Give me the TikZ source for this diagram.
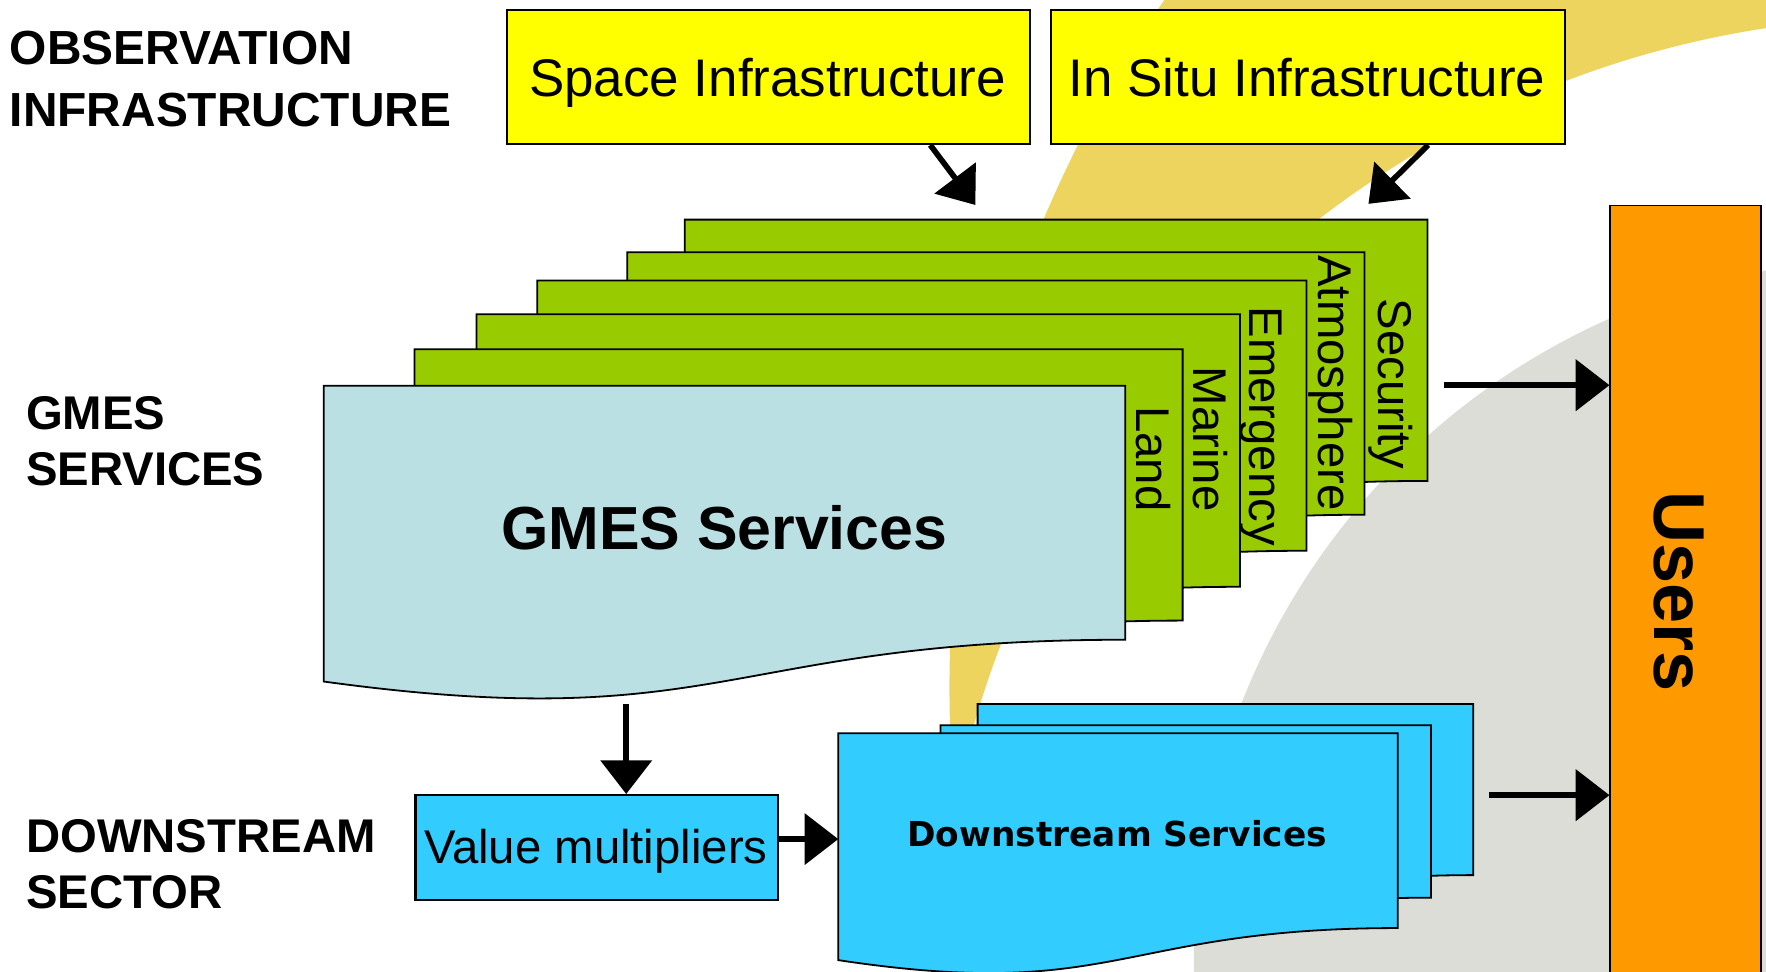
\documentclass[tikz,border=0pt]{standalone}
\usepackage{fontspec}
\setmainfont{Liberation Sans}
\newfontfamily\dvfont{DejaVu Sans}
\usetikzlibrary{arrows.meta}

\definecolor{boxyellow}{HTML}{FFFF00}
\definecolor{pagegreen}{HTML}{99CC00}
\definecolor{gmesblue}{HTML}{BBE0E3}
\definecolor{dscyan}{HTML}{33CCFF}
\definecolor{usersorange}{HTML}{FF9900}
\definecolor{arcyellow}{RGB}{236,212,94}
\definecolor{bggray}{RGB}{221,221,216}

% document shape: #1 style, #2 x left, #3 y top, #4 x right, #5 y at bottom right
\newcommand\docpage[5]{%
  \pgfmathsetmacro\dpH{(#5-#3)/0.802}%
  \pgfmathsetmacro\dpM{(#2+#4)/2}%
  \pgfmathsetmacro\dpC{#3+1.1075*\dpH}%
  \pgfmathsetmacro\dpL{#3+0.934*\dpH}%
  \draw[#1] (#2,#3) -- (#4,#3) -- (#4,#5) .. controls (\dpM,#5) and (\dpM,\dpC) .. (#2,\dpL) -- cycle;%
}

\tikzset{
  ybox/.style={draw=black, line width=1.8pt, fill=boxyellow, inner sep=0pt, anchor=north west},
  greenpage/.style={draw=black, line width=1.6pt, fill=pagegreen, line join=miter},
  gmespage/.style={draw=black, line width=1.6pt, fill=gmesblue},
  dspage/.style={draw=black, line width=1.6pt, fill=dscyan},
  arr/.style={line width=5pt, -{Triangle[length=30pt,width=45pt]}},
  lbl/.style={anchor=base west, inner sep=0pt, font=\bfseries\fontsize{42}{50}\selectfont},
  vlbl/.style={anchor=base, rotate=-90, inner sep=0pt, font=\fontsize{42}{50}\selectfont},
  ctxt/.style={anchor=base, inner sep=0pt},
}

\begin{document}
\begin{tikzpicture}[x=1pt,y=-1pt]
\useasboundingbox (0,0) rectangle (1568,863);
\clip (0,0) rectangle (1568,863);
\fill[white] (0,0) rectangle (1568,863);

% background logo shapes
\fill[bggray] (1680,850) circle[radius=620pt];
\begin{scope}
  \clip (1913,610) circle[radius=1070pt];
  \fill[arcyellow, even odd rule] (1913,610) circle[radius=1070pt] (1700,884) circle[radius=869pt];
\end{scope}

% observation infrastructure
\node[ybox, minimum width=465pt, minimum height=119pt] (space) at (449,8) {};
\node[ybox, minimum width=457pt, minimum height=119pt] (situ) at (932,8) {};
\node[ctxt, font=\fontsize{47}{56}\selectfont] (spacetxt) at (681.5,86) {Space Infrastructure};
\node[ctxt, font=\fontsize{47}{56}\selectfont] (situtxt) at (1160.5,86) {In Situ Infrastructure};

% GMES service pages (back to front)
\docpage{greenpage}{608}{195}{1267.5}{427}
\docpage{greenpage}{557}{224}{1211.5}{457}
\docpage{greenpage}{477}{249}{1160}{489}
\docpage{greenpage}{423}{279}{1101}{521}
\docpage{greenpage}{368}{310}{1050}{551}
\docpage{gmespage}{287.5}{342.5}{999}{568}

\node[vlbl] (lsec) at (1224,341) {Security};
\node[vlbl] (latm) at (1171,340) {Atmosphere};
\node[vlbl] (lemg) at (1109,378.5) {Emergency};
\node[vlbl] (lmar) at (1060,390) {Marine};
\node[vlbl] (llan) at (1009,407.5) {Land};
\node[ctxt, font=\bfseries\fontsize{54}{60}\selectfont] (gmestxt) at (643,488) {GMES Services};

% downstream pages (back to front)
\docpage{dspage}{868}{625}{1308}{777}
\docpage{dspage}{835}{644}{1270.5}{797}
\docpage{dspage}{744.3}{651}{1241}{824}
\node[ctxt, font=\dvfont\bfseries\fontsize{30.5}{36}\selectfont] (dstxt) at (992,752) {Downstream Services};

% value multipliers
\node[draw=black, line width=1.8pt, fill=dscyan, inner sep=0pt, anchor=north west,
      minimum width=322pt, minimum height=93pt] (value) at (368,705) {};
\node[ctxt, font=\fontsize{42}{50}\selectfont] (valuetxt) at (529,767) {Value multipliers};

% users
\node[draw=black, line width=1.2pt, fill=usersorange, inner sep=0pt, anchor=north west,
      minimum width=134pt, minimum height=720pt] (users) at (1429,182) {};
\node[rotate=-90, inner sep=0pt, font=\bfseries\fontsize{64}{70}\selectfont] (userstxt) at (1491,525) {Users};

% side labels
\node[lbl, font=\bfseries\fontsize{42.5}{50}\selectfont] (obs1) at (8.5,57.5) {OBSERVATION};
\node[lbl, font=\bfseries\fontsize{42.5}{50}\selectfont] (obs2) at (8.5,112) {INFRASTRUCTURE};
\node[lbl] (gms1) at (23,381) {GMES};
\node[lbl] (gms2) at (23,431) {SERVICES};
\node[lbl] (dwn1) at (23,757) {DOWNSTREAM};
\node[lbl] (dwn2) at (23,807) {SECTOR};

% connectors
\coordinate (spacetip) at (866,182);
\coordinate (situtip) at (1215,181);
\coordinate (gmesout) at (556,625);
\coordinate (dsin) at (744.3,745);
\coordinate (secout) at (1282,342);
\coordinate (dsout) at (1322,706);

\draw[arr] ([xshift=377pt]space.south west) -- (spacetip);
\draw[arr] ([xshift=336pt]situ.south west) -- (situtip);
\draw[arr] (gmesout) -- ([xshift=188pt]value.north west);
\draw[arr] (value.east |- dsin) -- (dsin);
\draw[arr] (secout) -- (secout -| users.west);
\draw[arr] (dsout) -- (dsout -| users.west);
\end{tikzpicture}
\end{document}
